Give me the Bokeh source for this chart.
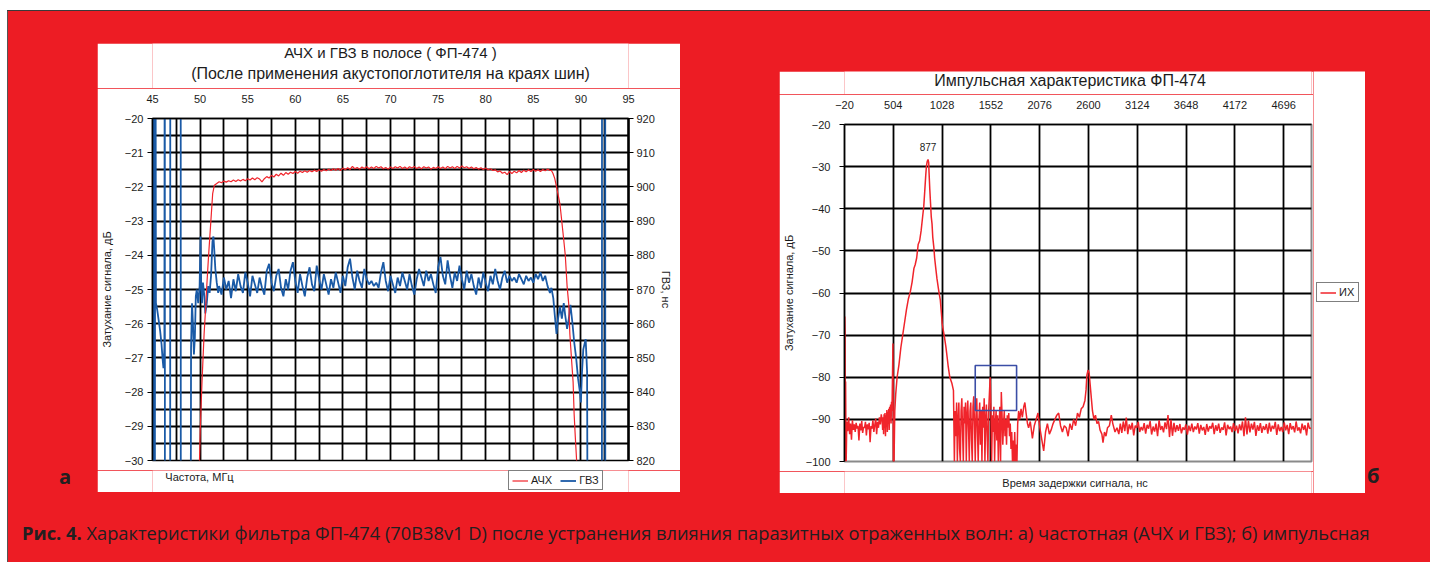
import numpy as np
from bokeh.plotting import figure
from bokeh.models import (Range1d, LinearAxis, FixedTicker, Label, Legend, LegendItem,
                          Div, Spacer, ColumnDataSource)
from bokeh.layouts import row, column
from bokeh.core.properties import value
from bokeh.embed import file_html
from bokeh.resources import INLINE

# ====================== panel а : АЧХ и ГВЗ ======================
a_title_1 = "АЧХ и ГВЗ в полосе ( ФП-474 )"
a_title_2 = "(После применения акустопоглотителя на краях шин)"
a_xlabel = "Частота, МГц"
a_ylabel = "Затухание сигнала, дБ"
a_y2label = "ГВЗ, нс"
a_legend = ["АЧХ", "ГВЗ"]
a_xticks = [45, 50, 55, 60, 65, 70, 75, 80, 85, 90, 95]
a_yticks = [-30, -29, -28, -27, -26, -25, -24, -23, -22, -21, -20]
a_y2ticks = [820, 830, 840, 850, 860, 870, 880, 890, 900, 910, 920]
a_xgrid = [47.5, 50, 52.5, 55, 57.5, 60, 62.5, 65, 67.5, 70, 72.5, 75, 77.5,
           80, 82.5, 85, 87.5, 90, 92.5]
a_ygrid = [-29.5, -29, -28.5, -28, -27.5, -27, -26.5, -26, -25.5, -25, -24.5,
           -24, -23.5, -23, -22.5, -22, -21.5, -21, -20.5]

# АЧХ, dB
achx_rise_f = [49.91, 50.02, 50.2, 50.31, 50.42, 50.57, 50.68, 50.87, 51.13, 51.32, 51.5]
achx_rise_v = [-30.3, -29.05, -27.7, -27.0, -26.3, -25.6, -25.0, -24.1, -23.0, -22.2, -21.95]
achx_band_f0 = 51.75
achx_band_step = 0.25
achx_band_v = [
    -21.90, -21.85, -21.88, -21.83, -21.86, -21.82, -21.85, -21.80, -21.84, -21.79,
    -21.83, -21.78, -21.82, -21.76, -21.80, -21.74, -21.79, -21.73, -21.77, -21.85,
    -21.76, -21.70, -21.74, -21.66, -21.71, -21.63, -21.68, -21.60, -21.66, -21.58,
    -21.63, -21.57, -21.61, -21.55, -21.60, -21.54, -21.58, -21.53, -21.57, -21.52,
    -21.56, -21.51, -21.55, -21.50, -21.54, -21.49, -21.53, -21.48, -21.52, -21.47,
    -21.51, -21.46, -21.52, -21.45, -21.50, -21.44, -21.49, -21.40, -21.47, -21.43,
    -21.48, -21.42, -21.46, -21.41, -21.47, -21.42, -21.46, -21.40, -21.45, -21.41,
    -21.47, -21.43, -21.48, -21.42, -21.46, -21.41, -21.45, -21.40, -21.46, -21.42,
    -21.47, -21.41, -21.45, -21.40, -21.46, -21.42, -21.47, -21.41, -21.45, -21.42,
    -21.48, -21.43, -21.46, -21.41, -21.46, -21.42, -21.47, -21.40, -21.45, -21.41,
    -21.46, -21.40, -21.45, -21.39, -21.44, -21.41, -21.46, -21.42, -21.47, -21.43,
    -21.48, -21.44, -21.49, -21.45, -21.50, -21.47, -21.52, -21.50, -21.56, -21.53,
    -21.60, -21.57, -21.64, -21.55, -21.61, -21.54, -21.59, -21.52, -21.58, -21.51,
    -21.56, -21.50, -21.55, -21.49, -21.54, -21.50, -21.55, -21.49, -21.53, -21.48,
    -21.52]
achx_fall_f = [86.9, 87.06, 87.25, 87.44, 87.62, 87.8, 87.99, 88.18, 88.36, 88.55,
               88.73, 88.84, 89.03, 89.18, 89.29, 89.40, 89.55, 89.62]
achx_fall_v = [-21.52, -21.6, -21.75, -22.0, -22.25, -22.5, -23.0, -23.5, -24.0, -24.9,
               -25.45, -26.3, -27.1, -27.7, -28.65, -29.25, -30.0, -30.4]

# ГВЗ, ns (values beyond 820..920 are off-scale measurements)
gvz_left_f = [45.02, 45.06, 45.14, 45.22, 45.30, 45.36, 45.5, 45.65, 45.8, 45.95,
              46.05, 46.15, 46.25, 46.29, 46.31, 46.85, 46.87, 47.96, 47.98, 48.95,
              49.05, 49.15, 49.25, 49.35, 49.45, 49.55, 49.65, 49.8, 49.95, 50.05,
              50.12, 50.2, 50.3, 50.45, 50.55, 50.7, 50.85, 51.0, 51.15, 51.3,
              51.4, 51.5, 51.6, 51.75, 51.9]
gvz_left_v = [990, 700, 990, 700, 990, 866, 864, 861, 858, 854,
              850, 847, 853, 990, 700, 700, 990, 990, 700, 700,
              853, 866, 860, 851, 856, 868, 870, 866, 871, 885.5,
              870, 866, 872, 868, 863, 866, 871, 869, 874, 884,
              885.5, 881, 876, 872, 869]
gvz_band_f0 = 52.0
gvz_band_step = 0.25
gvz_band_v = [
    871.0, 868.5, 873.5, 870.0, 872.5, 867.5, 873.0, 869.5, 874.5, 871.0,
    869.0, 875.0, 872.0, 868.0, 874.0, 871.5, 869.0, 873.5, 870.5, 868.5,
    875.5, 877.5, 872.0, 869.5, 874.0, 876.0, 870.5, 868.0, 873.0, 870.0,
    875.5, 878.0, 872.5, 869.0, 874.5, 871.0, 868.0, 873.5, 876.5, 871.5,
    869.5, 877.0, 873.0, 870.0, 874.5, 871.5, 868.5, 873.0, 870.5, 875.0,
    872.0, 869.0, 874.0, 871.0, 876.5, 879.0, 873.5, 870.0, 875.5, 872.5,
    870.5, 876.0, 873.0, 871.5, 872.5, 871.0, 872.0, 870.5, 875.0, 878.0,
    872.5, 869.5, 874.0, 871.5, 869.0, 873.5, 871.0, 875.0, 872.5, 870.0,
    874.5, 871.0, 868.5, 873.0, 876.0, 873.5, 871.0, 875.5, 872.5, 874.5,
    871.5, 869.0, 876.5, 879.5, 874.0, 871.5, 878.5, 874.0, 870.5, 875.0,
    872.5, 877.0, 873.0, 870.0, 875.5, 872.0, 874.5, 871.0, 868.5, 873.5,
    870.5, 875.0, 872.0, 869.5, 874.0, 871.5, 876.0, 872.5, 870.0, 873.5,
    875.5, 872.0, 874.0, 872.5, 873.5, 872.0, 874.5, 873.0, 871.5, 874.0,
    872.5, 873.5, 872.0, 874.5, 873.0, 875.0, 872.5, 874.0, 871.0]
gvz_right_f = [86.75, 86.9, 87.1, 87.25, 87.44, 87.6, 87.8, 88.0, 88.2, 88.35,
               88.55, 88.73, 88.9, 89.1, 89.3, 89.5, 89.7, 89.9, 90.0, 90.1,
               90.25, 90.5, 90.65, 90.8, 92.2, 92.22, 92.55, 92.57]
gvz_right_v = [869.0, 870.5, 867.5, 862.7, 857.0, 861.5, 865.0, 861.5, 866.0, 862.5,
               858.5, 861.5, 865.5, 860.5, 854.5, 850.0, 844.0, 840.0, 837.0, 845.0,
               852.5, 855.5, 846.0, 700, 700, 990, 990, 700]

# ====================== panel б : ИХ ======================
b_title = "Импульсная характеристика ФП-474"
b_xlabel = "Время задержки сигнала, нс"
b_ylabel = "Затухание сигнала, дБ"
b_legend = "ИХ"
b_peak_t = 877
b_peak_label = "877"
b_xticks = [-20, 504, 1028, 1552, 2076, 2600, 3124, 3648, 4172, 4696]
b_yticks = [-100, -90, -80, -70, -60, -50, -40, -30, -20]
b_ygrid = [-90, -80, -70, -60, -50, -40, -30]

ix_start_t = [-20, -17, -14, -11, -8, -5, -2]
ix_start_v = [-100, -65.6, -69, -100, -81, -93, -100]
ix_noise1_t0, ix_noise1_step = 5, 10
ix_noise1_v = [-90.5, -92.8, -89.5, -93.5, -91.0, -94.8, -90.2, -92.5, -91.2, -93.0,
               -90.8, -92.2, -91.5, -95.0, -91.0, -92.6, -90.4, -93.2, -91.8, -92.0,
               -90.6, -93.8, -91.2, -92.4, -90.8, -95.4, -91.6, -92.2, -90.2, -93.0,
               -91.4, -89.8, -93.5, -90.6, -92.0, -89.5, -91.2, -88.8, -90.5]
ix_rise_t0, ix_rise_step = 390, 5
ix_rise_v = [-92.5, -89.5, -93.5, -88.8, -92.0, -88.5, -94.0, -89.0, -91.5, -87.8,
             -93.0, -88.2, -90.5, -87.5, -92.5, -87.0, -89.8, -86.5, -91.0, -85.8,
             -88.0, -80.5, -72.0]
ix_lobe_t = [505, 512, 520, 530, 545, 565, 585, 605, 625, 645,
             665, 686, 706, 726, 739, 755, 771, 787, 803, 819,
             831, 843, 852, 860, 868, 877, 884, 888, 896, 904,
             912, 920, 928, 940, 948, 960, 973, 989, 1001, 1009,
             1021, 1029, 1041, 1053, 1069, 1082, 1094, 1110, 1122, 1134, 1150]
ix_lobe_v = [-100, -100, -88, -84, -80, -77, -73, -70, -67, -64,
             -61.5, -59.8, -57.4, -54.1, -53.3, -51.7, -48.5, -47.6, -45.2, -41.9,
             -39.5, -35.4, -32.2, -29.8, -28.8, -28.3, -29.0, -31.4, -35.4, -38.7,
             -42.0, -43.6, -46.8, -49.3, -51.7, -54.1, -56.6, -59.0, -60.7, -61.7,
             -64.9, -67.3, -68.9, -70.4, -72.8, -75.2, -77.5, -79.9, -80.7, -81.5, -83.1]
ix_forest_t0, ix_forest_step = 1160, 8
ix_forest_v = [-100, -88, -94, -86, -100, -90, -86, -97, -100, -88,
               -85, -93, -100, -87, -91, -86, -100, -89, -85.5, -92,
               -100, -88, -86, -95, -100, -87, -84.5, -91, -100, -89,
               -85, -93, -100, -90, -86, -96, -88, -100, -87, -92,
               -85, -100, -90, -86.5, -94, -100, -88, -84, -80, -87,
               -100, -89, -93, -87, -100, -91, -88, -95, -89, -100,
               -92, -87, -100, -83.5, -89, -96, -91, -88, -94, -90,
               -96, -89, -92, -88.5, -94, -91, -97, -93, -100, -95,
               -100, -93, -100, -96, -100, -91]
ix_tail_t = [1850, 1862, 1876, 1890, 1905, 1917, 1930, 1945, 1957, 1975,
             1998, 2018, 2038, 2058, 2078, 2100, 2119, 2139, 2159, 2180,
             2199, 2220, 2240, 2260, 2280, 2300, 2320, 2340, 2361, 2381,
             2401, 2421, 2441, 2462, 2482, 2502, 2522, 2542, 2562, 2574,
             2583, 2595, 2607, 2619, 2631, 2643, 2659, 2675, 2691, 2708,
             2724, 2744, 2756, 2772, 2788, 2804, 2825, 2845, 2861, 2885,
             2906, 2926]
ix_tail_v = [-88, -90, -87.5, -89.5, -87, -86, -88.5, -91, -92, -90.5,
             -94.5, -91.5, -90, -88.5, -92, -95, -97.5, -93, -91, -93.5,
             -92.5, -91, -90, -89, -88.5, -91.5, -93, -91.5, -92, -94,
             -91, -92.5, -90, -91.5, -88.5, -89.5, -87.5, -87, -85.5, -83,
             -79.5, -78.3, -79, -82, -85, -88, -90, -89, -91, -90.5,
             -92.5, -93.5, -95.5, -93, -94, -92, -91.5, -89, -91, -93,
             -92, -93.5]
ix_flat_t0, ix_flat_step = 2942, 16
ix_flat_v = [
    -91.0, -93.2, -90.5, -92.8, -89.6, -93.5, -91.2, -92.4, -90.8, -93.8, -91.5, -92.0, -90.6, -93.0, -91.8, -92.6,
    -90.9, -93.4, -91.3, -92.2, -90.4, -93.6, -91.7, -92.9, -91.0, -94.0, -90.2, -92.5, -91.6, -93.1, -90.7, -92.3,
    -89.0, -94.2, -90.1, -93.9, -90.8, -93.0, -91.4, -92.7, -91.1, -93.3, -91.9, -92.5, -91.2, -93.6, -91.5, -92.8,
    -91.0, -93.0, -91.7, -92.4, -90.9, -93.4, -91.3, -92.6, -91.8, -93.7, -91.1, -92.9, -91.6, -92.2, -90.8, -93.5,
    -91.4, -92.7, -91.0, -93.2, -91.9, -92.5, -90.7, -93.8, -91.3, -92.3, -91.7, -93.0, -90.9, -92.8, -91.5, -93.3,
    -91.2, -92.6, -90.5, -94.0, -89.5, -93.6, -90.3, -93.1, -91.0, -92.4, -90.6, -93.9, -91.4, -92.7, -90.9, -93.2,
    -91.6, -92.5, -91.1, -93.4, -90.8, -92.9, -91.5, -92.3, -90.6, -93.7, -91.2, -92.8, -91.8, -93.0, -90.7, -92.6,
    -91.3, -93.5, -90.9, -92.4, -91.6, -93.1, -90.5, -92.7, -91.9, -93.3, -91.0, -92.5, -91.4, -93.8, -90.8, -92.2]
ix_end_t = [4990]
ix_end_v = [-92.0]

# highlighted region (blue box)
box_t0, box_t1 = [1384], [1828]
box_v0, box_v1 = [-87.9], [-77.2]

caption_bold = "Рис. 4."
caption_text = ("Характеристики фильтра ФП-474 (70В38v1 D) после устранения влияния паразитных "
                "отраженных волн: а) частотная (АЧХ и ГВЗ); б) импульсная")

# ====================== build series ======================
def grid_series(t0, step, vals):
    return [t0 + step * i for i in range(len(vals))]

achx_f = achx_rise_f + grid_series(achx_band_f0, achx_band_step, achx_band_v) + achx_fall_f
achx_v = achx_rise_v + achx_band_v + achx_fall_v
gvz_f = gvz_left_f + grid_series(gvz_band_f0, gvz_band_step, gvz_band_v) + gvz_right_f
gvz_v = gvz_left_v + gvz_band_v + gvz_right_v

ix_t = (ix_start_t + grid_series(ix_noise1_t0, ix_noise1_step, ix_noise1_v)
        + grid_series(ix_rise_t0, ix_rise_step, ix_rise_v) + ix_lobe_t
        + grid_series(ix_forest_t0, ix_forest_step, ix_forest_v) + ix_tail_t
        + grid_series(ix_flat_t0, ix_flat_step, ix_flat_v) + ix_end_t)
ix_v = (ix_start_v + ix_noise1_v + ix_rise_v + ix_lobe_v + ix_forest_v + ix_tail_v
        + ix_flat_v + ix_end_v)

# ====================== styling constants ======================
RED_BG = "#ED1C24"
FONT = "Liberation Sans"
TXT = "#1c1c1c"
LINE_RED = "#f0242b"
LINE_BLUE = "#1a5aa6"


def style_axis(ax, tick_out, standoff):
    ax.major_label_text_font = FONT
    ax.major_label_text_font_size = "11px"
    ax.major_label_text_color = TXT
    ax.major_tick_out = tick_out
    ax.major_tick_in = 0
    ax.minor_tick_out = 0
    ax.minor_tick_in = 0
    ax.major_label_standoff = standoff
    ax.axis_line_color = "black"
    ax.axis_line_width = 1.5
    ax.major_tick_line_color = "black"
    ax.axis_label_text_font = FONT
    ax.axis_label_text_font_size = "11px"
    ax.axis_label_text_font_style = "normal"
    ax.axis_label_text_color = TXT


def strip(width, height, x_range, left, right):
    """white band of a chart panel, aligned with the chart's x scale"""
    s = figure(width=width, height=height, x_range=x_range, y_range=Range1d(0, height),
               x_axis_location=None, y_axis_location=None, output_backend="svg",
               toolbar_location=None, min_border_left=left, min_border_right=right,
               min_border_top=0, min_border_bottom=0,
               background_fill_color="white", border_fill_color="white")
    s.title.visible = False
    s.outline_line_color = None
    s.grid.visible = False
    return s


def put_text(fig, x, y, text, size, align="center"):
    fig.text(x=[x], y=[y], text=[text], text_align=align, text_baseline="middle",
             text_font=value(FONT), text_font_size=value(size), text_color=TXT)


def make_legend(items, location, orientation="vertical"):
    return Legend(items=items, location=location, orientation=orientation, margin=0,
                  padding=3, spacing=8, glyph_width=16, glyph_height=11, label_height=11,
                  label_width=16, label_standoff=3, label_text_font=FONT,
                  label_text_font_size="11px", label_text_color=TXT,
                  border_line_color="black", border_line_width=1,
                  background_fill_color="white", background_fill_alpha=1)


# ---------------- figure а ----------------
pa = figure(width=583, height=382, x_range=Range1d(45, 95), y_range=Range1d(-30, -20),
            x_axis_location="above", output_backend="svg", toolbar_location=None,
            min_border_left=50, min_border_right=52, min_border_top=30, min_border_bottom=10,
            background_fill_color="white", border_fill_color="white")
pa.title.visible = False
pa.extra_y_ranges = {"gvz": Range1d(820, 920)}
pa.outline_line_color = "black"
pa.outline_line_width = 1.5

pa.xaxis.ticker = FixedTicker(ticks=a_xticks)
pa.yaxis.ticker = FixedTicker(ticks=a_yticks)
style_axis(pa.xaxis[0], 0, 16)
style_axis(pa.yaxis[0], 5, 4)
pa.yaxis.axis_label = a_ylabel
pa.yaxis.axis_label_standoff = 9

ax_r = LinearAxis(y_range_name="gvz", ticker=FixedTicker(ticks=a_y2ticks))
style_axis(ax_r, 5, 3)
ax_r.axis_line_width = 2.5
ax_r.axis_label = a_y2label
ax_r.axis_label_standoff = 2
pa.add_layout(ax_r, "right")

pa.xgrid.ticker = FixedTicker(ticks=a_xgrid)
pa.ygrid.ticker = FixedTicker(ticks=a_ygrid)
for g in (pa.xgrid[0], pa.ygrid[0]):
    g.grid_line_color = "black"
    g.grid_line_width = 1.8

pa.line(gvz_f, gvz_v, y_range_name="gvz", line_color=LINE_BLUE, line_width=1.8)
pa.line(achx_f, achx_v, line_color=LINE_RED, line_width=1.2)

# title band (page y 43..88) and caption/legend band (page y 470..492)
top_a = strip(583, 45, pa.x_range, 50, 52)
put_text(top_a, 70, 36, a_title_1, "15px")
put_text(top_a, 70, 15, a_title_2, "16px")

bot_a = strip(583, 22, pa.x_range, 50, 52)
put_text(bot_a, 46.35, 16, a_xlabel, "11px", align="left")
# legend keys: the same series, out of this band's view
k_achx = bot_a.line(achx_f, achx_v, line_color=LINE_RED, line_width=1.2)
k_gvz = bot_a.line(gvz_f, gvz_v, line_color=LINE_BLUE, line_width=1.8)
bot_a.add_layout(make_legend([LegendItem(label=a_legend[0], renderers=[k_achx]),
                              LegendItem(label=a_legend[1], renderers=[k_gvz])],
                             (356, 2), orientation="horizontal"))

# ---------------- figure б ----------------
pb = figure(width=534, height=377, x_range=Range1d(-20, 4995), y_range=Range1d(-100, -20),
            x_axis_location="above", output_backend="svg", toolbar_location=None,
            min_border_left=58, min_border_right=2, min_border_top=30, min_border_bottom=10,
            background_fill_color="white", border_fill_color="white")
pb.title.visible = False
pb.outline_line_color = "#8a8a8a"
pb.outline_line_width = 2
pb.xaxis.ticker = FixedTicker(ticks=b_xticks)
pb.yaxis.ticker = FixedTicker(ticks=b_yticks)
style_axis(pb.xaxis[0], 0, 16)
style_axis(pb.yaxis[0], 5, 9)
pb.yaxis.axis_label = b_ylabel
pb.yaxis.axis_label_standoff = 8
pb.xgrid.ticker = FixedTicker(ticks=b_xticks[1:])
pb.ygrid.ticker = FixedTicker(ticks=b_ygrid)
for g in (pb.xgrid[0], pb.ygrid[0]):
    g.grid_line_color = "black"
    g.grid_line_width = 1.8

pb.line(ix_t, ix_v, line_color=LINE_RED, line_width=1.5)
box_src = ColumnDataSource(dict(l=box_t0, r=box_t1, b=box_v0, t=box_v1))
pb.quad(left="l", right="r", bottom="b", top="t", source=box_src, fill_alpha=0,
        line_color="#3b4ea6", line_width=1.6)
pb.add_layout(Label(x=b_peak_t, y=-25.3, text=b_peak_label, text_align="center",
                    text_baseline="middle", text_font=FONT, text_font_size="10px",
                    text_color=TXT))

top_b = strip(534, 23, pb.x_range, 58, 2)
put_text(top_b, 2403, 14, b_title, "16px")
bot_b = strip(534, 22, pb.x_range, 58, 2)
put_text(bot_b, 2456, 10.3, b_xlabel, "11px")

side_b = figure(width=52, height=422, x_range=Range1d(0, 52), y_range=Range1d(0, 422),
                x_axis_location=None, y_axis_location=None, output_backend="svg",
                toolbar_location=None, min_border=0,
                background_fill_color="white", border_fill_color="white")
side_b.title.visible = False
side_b.outline_line_color = None
side_b.grid.visible = False
k_ix = side_b.line(ix_t, ix_v, line_color=LINE_RED, line_width=1.5)
side_b.add_layout(make_legend([LegendItem(label=b_legend, renderers=[k_ix])], (3, 191)))

# ---------------- page layout ----------------
letter_style = "font-family:'Open Sans';font-weight:700;font-size:20px;color:#231f20;line-height:1.36;"
col_left = column(Spacer(width=89, height=452),
                  Div(width=89, height=30, margin=0,
                      text=f'<div style="{letter_style}padding-left:51px;">а</div>'))
col_a = column(Spacer(width=583, height=32), top_a, pa, bot_a)
gap = Spacer(width=99, height=482)
col_b = column(Spacer(width=586, height=60),
               row(column(top_b, pb, bot_b), side_b))
col_right = column(Spacer(width=65, height=448),
                   Div(width=65, height=34, margin=0,
                       text=f'<div style="{letter_style}padding-left:2px;padding-top:3px;">б</div>'))
top_row = row(col_left, col_a, gap, col_b, col_right)

caption = Div(width=1422, height=69, margin=0,
              text=('<div style="padding:28px 0 0 14px;font-family:\'Open Sans\';font-size:18.3px;'
                    'color:#231f20;white-space:nowrap;line-height:1.36;">'
                    f'<b>{caption_bold}</b> {caption_text}</div>'))

block = column(top_row, caption, width=1422, height=551,
               styles={"background-color": RED_BG})
root = column(
    Spacer(width=1430, height=10),
    row(Spacer(width=7, height=1),
        Div(width=1423, height=1, margin=0, styles={"background-color": "#3a3a3a"})),
    row(Spacer(width=7, height=551),
        Div(width=1, height=551, margin=0, styles={"background-color": "#555555"}),
        block),
)

open("out.html", "w").write(file_html(root, INLINE))
